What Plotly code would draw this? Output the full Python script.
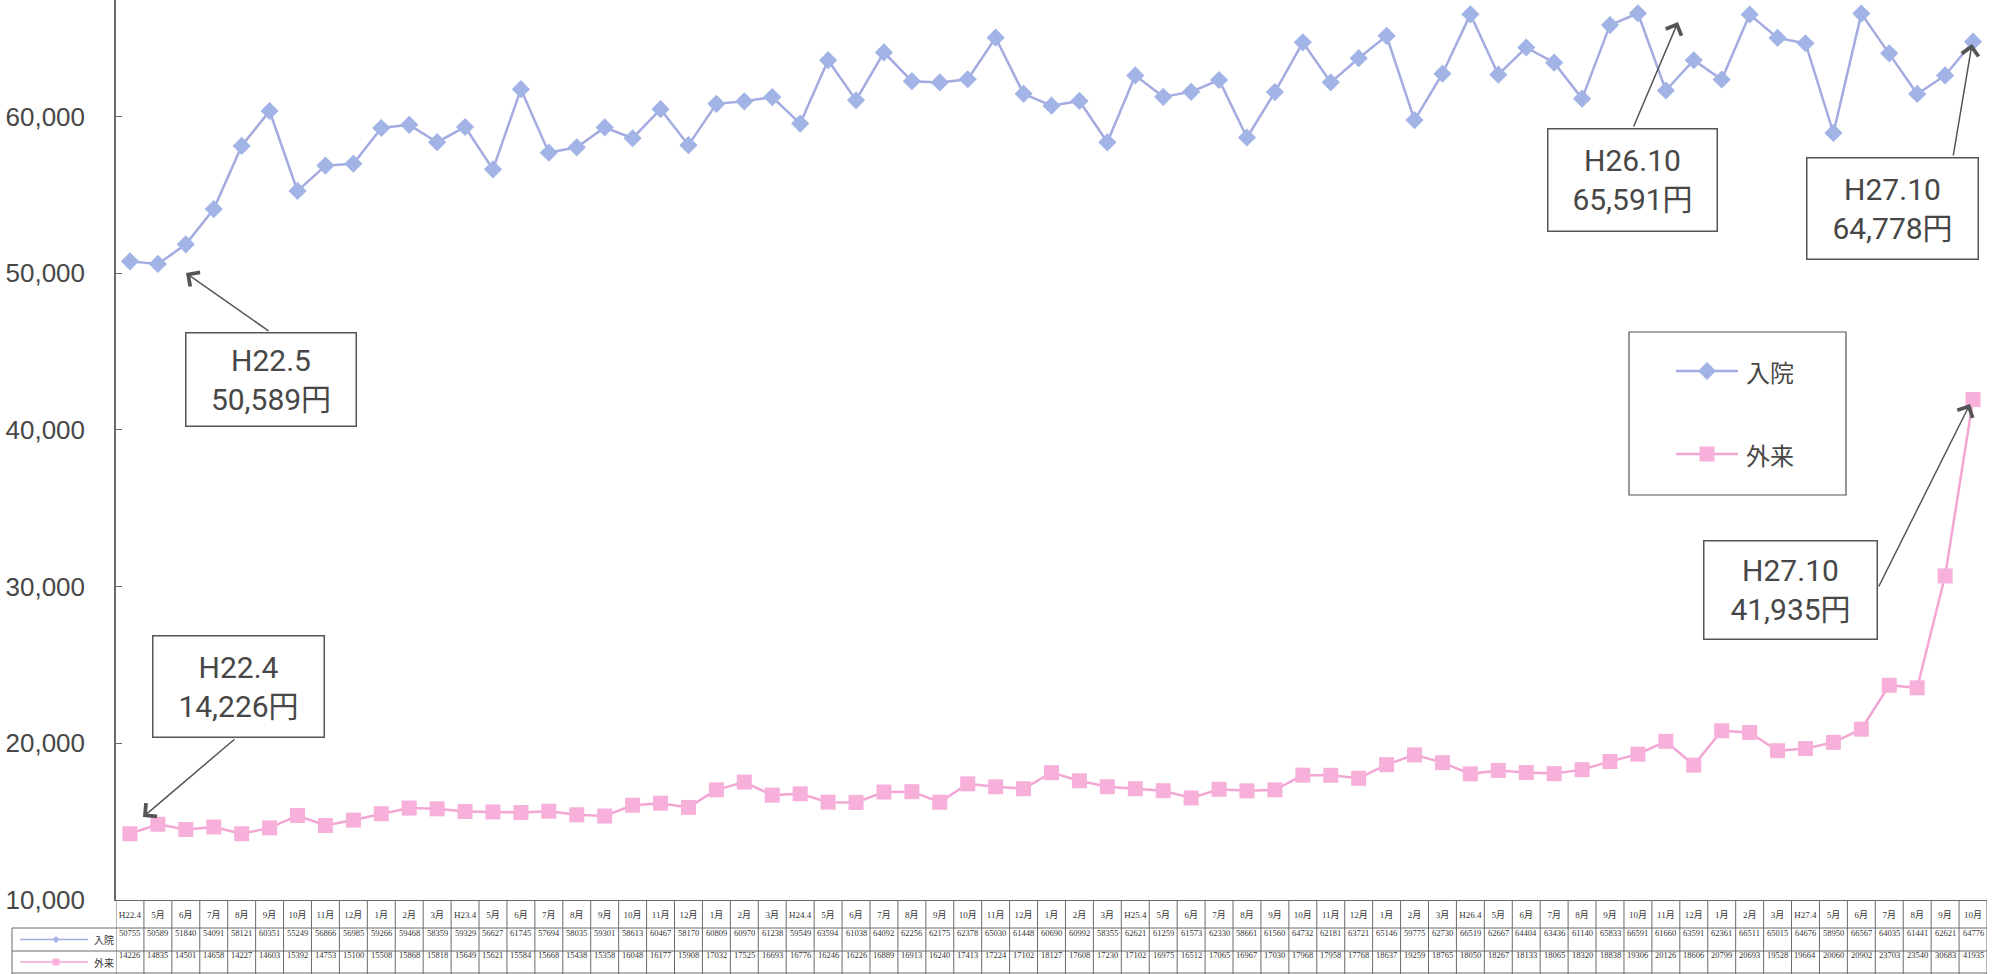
import plotly.graph_objects as go

# ---------------- data ----------------
categories = [
    "H22.4", "5月", "6月", "7月", "8月", "9月", "10月", "11月", "12月", "1月", "2月", "3月",
    "H23.4", "5月", "6月", "7月", "8月", "9月", "10月", "11月", "12月", "1月", "2月", "3月",
    "H24.4", "5月", "6月", "7月", "8月", "9月", "10月", "11月", "12月", "1月", "2月", "3月",
    "H25.4", "5月", "6月", "7月", "8月", "9月", "10月", "11月", "12月", "1月", "2月", "3月",
    "H26.4", "5月", "6月", "7月", "8月", "9月", "10月", "11月", "12月", "1月", "2月", "3月",
    "H27.4", "5月", "6月", "7月", "8月", "9月", "10月",
]

inpatient = [
    50755, 50589, 51840, 54091, 58121, 60351, 55249, 56866, 56985, 59266, 59468, 58359,
    59329, 56627, 61745, 57694, 58035, 59301, 58613, 60467, 58170, 60809, 60970, 61238,
    59549, 63594, 61038, 64092, 62256, 62175, 62378, 65030, 61448, 60690, 60992, 58355,
    62621, 61259, 61573, 62330, 58661, 61560, 64732, 62181, 63721, 65146, 59775, 62730,
    66519, 62667, 64404, 63436, 61140, 65833, 66591, 61660, 63591, 62361, 66511, 65015,
    64676, 58950, 66567, 64035, 61441, 62621, 64776,
]

outpatient = [
    14226, 14835, 14501, 14658, 14227, 14603, 15392, 14753, 15100, 15508, 15868, 15818,
    15649, 15621, 15584, 15668, 15438, 15358, 16048, 16177, 15908, 17032, 17525, 16693,
    16776, 16246, 16226, 16889, 16913, 16240, 17413, 17224, 17102, 18127, 17608, 17230,
    17102, 16975, 16512, 17065, 16967, 17030, 17968, 17958, 17768, 18637, 19259, 18765,
    18050, 18267, 18133, 18065, 18320, 18838, 19306, 20126, 18606, 20799, 20693, 19528,
    19664, 20060, 20902, 23703, 23540, 30683, 41935,
]

series_names = ["入院", "外来"]
y_tick_values = [10000, 20000, 30000, 40000, 50000, 60000]

callout_texts = [
    "H22.5<br>50,589円",
    "H26.10<br>65,591円",
    "H27.10<br>64,778円",
    "H22.4<br>14,226円",
    "H27.10<br>41,935円",
]

# ---------------- styling / layout geometry ----------------
W, H = 1999, 974
ML, MR, MT, MB = 116, 12, 0, 74
PW, PH = W - ML - MR, H - MT - MB
Y_MIN = 10000
Y_MAX = 67435

BLUE_LINE = "#a3abe0"
BLUE_MK = "#a2b3e6"
PINK_LINE = "#f3a6d4"
PINK_MK = "#f6b0da"
GRAY = "#555555"
TEXT = "#474747"

SANS = "Liberation Sans, Noto Sans CJK JP"
CALLOUT_FONT = "Roboto, Noto Sans CJK JP"
CJK = "Noto Sans CJK JP"
SERIF = "Liberation Serif, Noto Sans CJK JP"


def PX(x):
    return (x - ML) / PW


def PY(y):
    return (MT + PH - y) / PH


n = len(categories)
xs = list(range(n))

fig = go.Figure()
fig.add_trace(go.Scatter(
    x=xs, y=inpatient, name=series_names[0], mode="lines+markers",
    line=dict(color=BLUE_LINE, width=2.5),
    marker=dict(symbol="diamond", size=14, color=BLUE_MK),
    cliponaxis=False, showlegend=False,
))
fig.add_trace(go.Scatter(
    x=xs, y=outpatient, name=series_names[1], mode="lines+markers",
    line=dict(color=PINK_LINE, width=2.5),
    marker=dict(symbol="square", size=15, color=PINK_MK),
    cliponaxis=False, showlegend=False,
))

shapes = []
annotations = []

# ---------- data table under the chart ----------
row1_y, row2_y = 939.5, 962
for i in range(n + 1):
    shapes.append(dict(type="line", xref="x", yref="paper",
                       x0=i - 0.5, x1=i - 0.5, y0=PY(900), y1=PY(974),
                       line=dict(color="#6a6a6a", width=1)))
for yy in (928, 951, 973):
    shapes.append(dict(type="line", xref="paper", yref="paper",
                       x0=PX(12), x1=PX(ML + PW), y0=PY(yy), y1=PY(yy),
                       line=dict(color="#6a6a6a", width=1)))
shapes.append(dict(type="line", xref="paper", yref="paper",
                   x0=PX(12), x1=PX(12), y0=PY(928), y1=PY(974),
                   line=dict(color="#6a6a6a", width=1)))

for i in range(n):
    annotations.append(dict(x=i, y=PY(row1_y), xref="x", yref="paper",
                            text=str(inpatient[i]), showarrow=False,
                            font=dict(size=8.5, family=SERIF, color="#333")))
    annotations.append(dict(x=i, y=PY(row2_y), xref="x", yref="paper",
                            text=str(outpatient[i]), showarrow=False,
                            font=dict(size=8.5, family=SERIF, color="#333")))


def diamond_path(cx, cy, r):
    return (f"M{PX(cx - r)},{PY(cy)} L{PX(cx)},{PY(cy - r)} "
            f"L{PX(cx + r)},{PY(cy)} L{PX(cx)},{PY(cy + r)} Z")


def square_path(cx, cy, r):
    return (f"M{PX(cx - r)},{PY(cy - r)} L{PX(cx + r)},{PY(cy - r)} "
            f"L{PX(cx + r)},{PY(cy + r)} L{PX(cx - r)},{PY(cy + r)} Z")


# table key cells
for (yy, name, lc, mc, path_fn) in (
    (row1_y, series_names[0], BLUE_LINE, BLUE_MK, diamond_path),
    (row2_y, series_names[1], PINK_LINE, PINK_MK, square_path),
):
    shapes.append(dict(type="line", xref="paper", yref="paper",
                       x0=PX(20), x1=PX(88), y0=PY(yy), y1=PY(yy),
                       line=dict(color=lc, width=1.5)))
    shapes.append(dict(type="path", xref="paper", yref="paper",
                       path=path_fn(56, yy, 3.5), fillcolor=mc, line=dict(width=0)))
    annotations.append(dict(x=PX(92), y=PY(yy), xref="paper", yref="paper",
                            xanchor="left", yanchor="middle", text=name, showarrow=False,
                            font=dict(size=10, family=CJK, color="#333")))

# ---------- legend box ----------
shapes.append(dict(type="rect", xref="paper", yref="paper",
                   x0=PX(1629), x1=PX(1846), y0=PY(332), y1=PY(495),
                   line=dict(color=GRAY, width=1.2), fillcolor="rgba(0,0,0,0)"))
for (yy, name, lc, mc, path_fn, r) in (
    (371, series_names[0], BLUE_LINE, BLUE_MK, diamond_path, 9),
    (454, series_names[1], PINK_LINE, PINK_MK, square_path, 7.5),
):
    shapes.append(dict(type="line", xref="paper", yref="paper",
                       x0=PX(1676), x1=PX(1738), y0=PY(yy), y1=PY(yy),
                       line=dict(color=lc, width=2.5)))
    shapes.append(dict(type="path", xref="paper", yref="paper",
                       path=path_fn(1707, yy, r), fillcolor=mc, line=dict(width=0)))
    annotations.append(dict(x=PX(1744), y=PY(yy), xref="paper", yref="paper",
                            xanchor="left", yanchor="middle", text=name, showarrow=False,
                            font=dict(size=24, family=CJK, color=TEXT)))

# ---------- callout boxes with arrows ----------
# (box x0, x1, y0, y1), arrow tail, arrow head  -- page pixels
callout_geom = [
    ((185, 357, 332, 427), (270, 332), (186, 273)),
    ((1547, 1718, 128, 232), (1633, 128), (1678, 22)),
    ((1806, 1979, 157, 260), (1953, 157), (1972, 44)),
    ((152, 325, 635, 738), (236, 738), (143, 817)),
    ((1703, 1878, 540, 640), (1878, 588), (1970, 404)),
]
for text, (box, tail, head) in zip(callout_texts, callout_geom):
    x0, x1, y0, y1 = box
    annotations.append(dict(
        x=PX((x0 + x1) / 2), y=PY((y0 + y1) / 2), xref="paper", yref="paper",
        xanchor="center", yanchor="middle",
        text=text, showarrow=False, width=x1 - x0 - 3, height=y1 - y0 - 3,
        borderpad=0, bordercolor=GRAY, borderwidth=1.5, bgcolor="rgba(255,255,255,0)",
        align="center", valign="middle",
        font=dict(size=30, family=CALLOUT_FONT, color=TEXT),
    ))
    annotations.append(dict(
        x=PX(head[0]), y=PY(head[1]), xref="paper", yref="paper",
        ax=tail[0] - head[0], ay=tail[1] - head[1], axref="pixel", ayref="pixel",
        text="", showarrow=True, arrowhead=4, arrowsize=2.2, arrowwidth=1.5,
        arrowcolor=GRAY, standoff=0, startstandoff=0,
    ))

fig.update_layout(
    width=W, height=H,
    margin=dict(l=ML, r=MR, t=MT, b=MB, pad=0),
    paper_bgcolor="white", plot_bgcolor="white",
    showlegend=False,
    xaxis=dict(
        range=[-0.5, n - 0.5], tickmode="array", tickvals=xs, ticktext=categories,
        showline=True, linecolor="#6a6a6a", linewidth=1, ticks="",
        showgrid=False, zeroline=False, tickangle=0,
        tickfont=dict(size=9, family=SERIF, color="#333"),
        ticklabelstandoff=6,
    ),
    yaxis=dict(
        range=[Y_MIN, Y_MAX], tickmode="array", tickvals=y_tick_values,
        tickformat=",", showline=True, linecolor="#6a6a6a", linewidth=1.5,
        ticks="inside", ticklen=6, tickcolor="#6a6a6a",
        showgrid=False, zeroline=False,
        tickfont=dict(size=26, family=SANS, color=TEXT),
        ticklabelstandoff=24,
    ),
    shapes=shapes,
    annotations=annotations,
)

fig.write_html(
    "out.html",
    config=dict(displayModeBar=False),
    post_script="document.body.style.margin='0';document.body.style.overflow='hidden';",
)
